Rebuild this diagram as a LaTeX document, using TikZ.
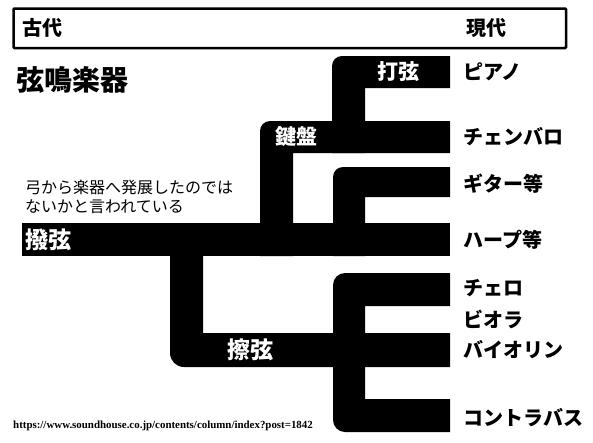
\documentclass[tikz,border=0pt]{standalone}
\usepackage{fontspec}
\newfontfamily\jp{Noto Sans CJK JP}
\newfontfamily\urlfont{Liberation Serif}
\usetikzlibrary{positioning}

\begin{document}
\begin{tikzpicture}[
  x=1pt, y=-1pt,
  bar/.style={fill=black},
  era/.style={anchor=west, inner sep=0pt, font=\jp\bfseries\fontsize{20}{24}\selectfont},
  branch/.style={text=white, inner sep=0pt, font=\jp\bfseries\fontsize{21}{24}\selectfont},
  leaf/.style={anchor=west, inner sep=0pt, font=\jp\bfseries\fontsize{20}{24}\selectfont}]
  \useasboundingbox (0,0) rectangle (593,442);
  % time axis
  \draw[line width=2.5pt, rounded corners=1pt] (13.5,8.5) rectangle (566,48);
  \node[era] (old) at (22,28) {古代};
  \node[era] (now) at (466,28) {現代};
  \node[anchor=west, inner sep=0pt, font=\jp\bfseries\fontsize{28}{30}\selectfont] (title) at (16,80) {弦鳴楽器};
  \node[anchor=west, align=left, inner sep=0pt, font=\jp\fontsize{16}{19}\selectfont] (note) at (25,197)
    {弓から楽器へ発展したのでは\\ないかと言われている};
  % bars
  \fill[bar] (22,223) rectangle (450,256);
  \fill[bar] (293,256) -- (260,256) [rounded corners=10pt] -- (260,121) [sharp corners] -- (450,121) -- (450,153) -- (293,153) -- cycle;
  \fill[bar] (365,153) -- (332,153) [rounded corners=10pt] -- (332,56) [sharp corners] -- (450,56) -- (450,88) -- (365,88) -- cycle;
  \fill[bar] (365,256) -- (333,256) [rounded corners=10pt] -- (333,167) [sharp corners] -- (450,167) -- (450,197) -- (365,197) -- cycle;
  \fill[bar] (203,256) -- (170,256) [rounded corners=14pt] -- (170,367) [sharp corners] -- (450,367) -- (450,333) -- (203,333) -- cycle;
  \fill[bar] (450,273) -- (450,306) -- (365,306) -- (365,399) -- (450,399) -- (450,432) [rounded corners=12pt] -- (333,432) -- (333,273) [sharp corners] -- cycle;
  % branch labels
  \node[branch] (strike) at (398,72) {打弦};
  \node[branch] (keys) at (296,137) {鍵盤};
  \node[branch, font=\jp\bfseries\fontsize{23}{26}\selectfont] (pluck) at (48,240) {撥弦};
  \node[branch, font=\jp\bfseries\fontsize{23}{26}\selectfont] (bow) at (250,350) {擦弦};
  % instruments
  \node[leaf] (piano) at (463,72) {ピアノ};
  \node[leaf] (cembalo) at (463,137) {チェンバロ};
  \node[leaf] (guitar) at (463,184) {ギター等};
  \node[leaf] (harp) at (463,240) {ハープ等};
  \node[leaf] (cello) at (463,288) {チェロ};
  \node[leaf] (viola) at (463,319) {ビオラ};
  \node[leaf] (violin) at (463,350) {バイオリン};
  \node[leaf] (bass) at (463,418) {コントラバス};
  \node[anchor=west, inner sep=0pt, font=\urlfont\bfseries\fontsize{10.9}{13}\selectfont] (src) at (13,426)
    {https://www.soundhouse.co.jp/contents/column/index?post=1842};
\end{tikzpicture}
\end{document}
